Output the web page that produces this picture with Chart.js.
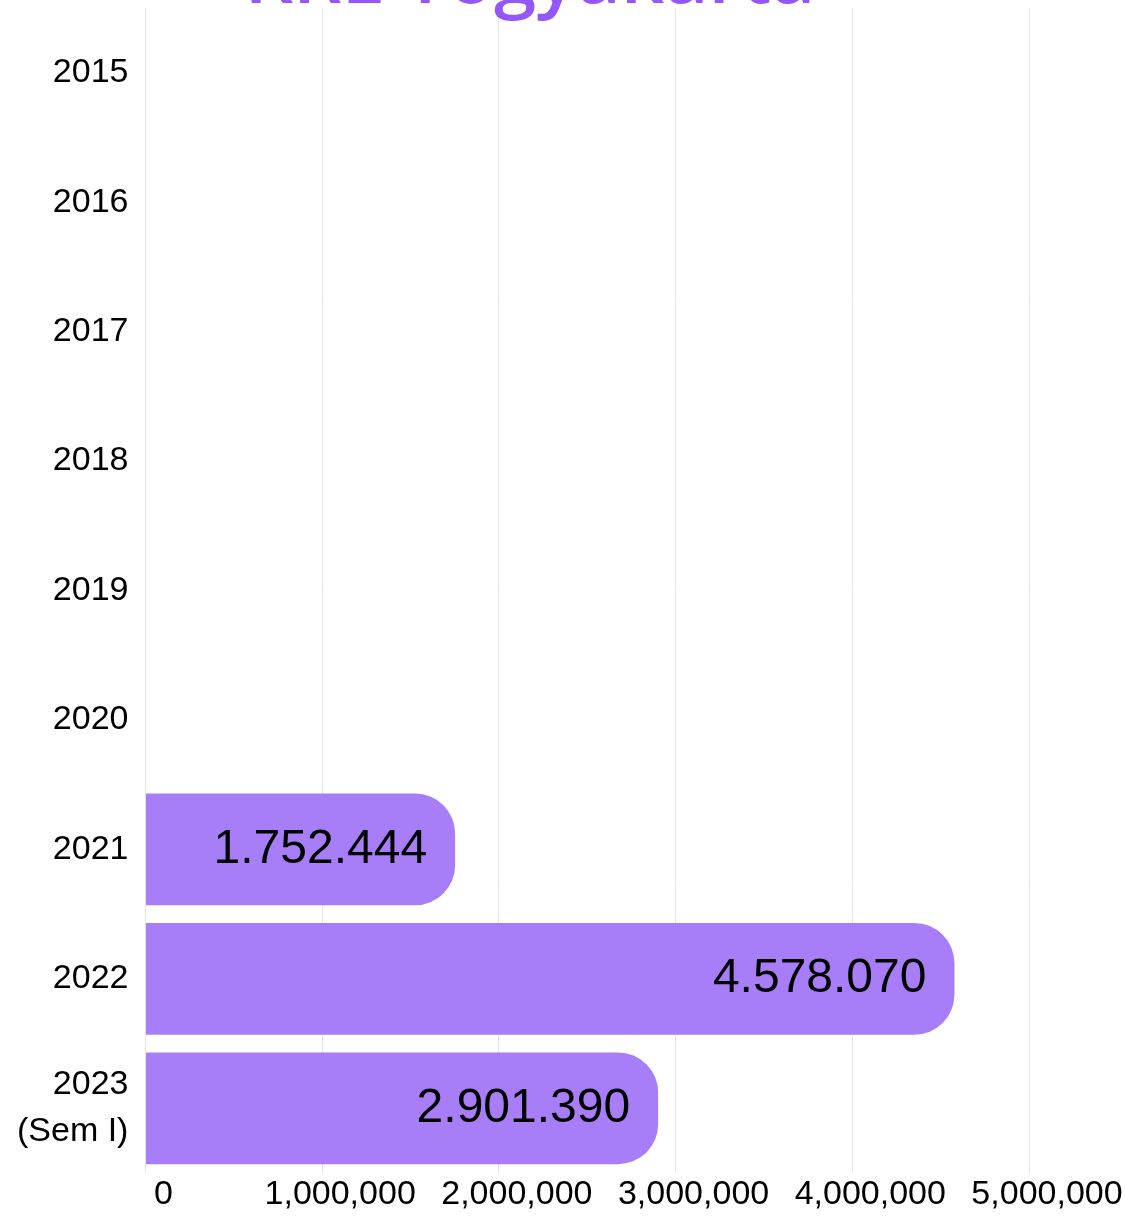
<!DOCTYPE html>
<html>
<head>
<meta charset="utf-8">
<script src="https://cdn.jsdelivr.net/npm/chart.js@4/dist/chart.umd.min.js"></script>
<style>
  html, body { margin: 0; padding: 0; background: #fff; overflow: hidden; }
  #wrap { position: relative; width: 1125px; height: 1217px; }
  #title {
    position: absolute; top: -64px; left: 0; width: 1060px;
    text-align: center; font-family: 'Open Sans', sans-serif;
    font-weight: 600; font-size: 76px; line-height: 76px; color: #9457fb;
    z-index: 2;
  }
</style>
</head>
<body>
<div id="wrap">
  <div id="title">KRL Yogyakarta</div>
  <canvas id="chart" width="1125" height="1217"></canvas>
</div>
<script>
const categories = ['2015', '2016', '2017', '2018', '2019', '2020', '2021', '2022', ['2023', '(Sem I)']];
const passengers = [null, null, null, null, null, null, 1752444, 4578070, 2901390];
const axisMax = 5000000;
const axisStep = 1000000;

// value labels drawn inside the bar end, Indonesian number format
const valueLabels = {
    id: 'valueLabels',
    afterDatasetsDraw(chart) {
        const ctx = chart.ctx;
        const meta = chart.getDatasetMeta(0);
        ctx.save();
        ctx.font = '48px "Liberation Sans", Arial, sans-serif';
        ctx.fillStyle = '#000';
        ctx.textAlign = 'right';
        ctx.textBaseline = 'middle';
        meta.data.forEach((bar, i) => {
            const v = passengers[i];
            if (v == null) return;
            ctx.fillText(v.toLocaleString('id-ID'), bar.x - 28, bar.y);
        });
        ctx.restore();
    },
};

const ctx = document.getElementById('chart').getContext('2d');
new Chart(ctx, {
    type: 'bar',
    data: {
        labels: categories,
        datasets: [
            {
                data: passengers,
                backgroundColor: '#a77ef8',
                borderWidth: 0,
                borderRadius: 40,
                borderSkipped: 'start',
                barPercentage: 0.863,
                categoryPercentage: 1,
            },
        ],
    },
    options: {
        indexAxis: 'y',
        responsive: false,
        animation: false,
        layout: {
            padding: { top: 8, right: 96, left: 0, bottom: 0 },
        },
        plugins: {
            legend: { display: false },
            tooltip: { enabled: false },
        },
        scales: {
            x: {
                min: 0,
                max: axisMax,
                border: { display: false },
                grid: { color: '#e6e6e6', drawTicks: false },
                ticks: {
                    stepSize: axisStep,
                    padding: 1,
                    labelOffset: 18,
                    color: '#000',
                    maxRotation: 0,
                    font: { family: '"Liberation Sans", Arial, sans-serif', size: 34, lineHeight: 1.2 },
                    callback: (v) => v.toLocaleString('en-US'),
                },
                afterFit(scale) {
                    scale.height = 44;
                },
            },
            y: {
                border: { display: false },
                grid: { display: false, drawTicks: false },
                ticks: {
                    padding: 17,
                    color: '#000',
                    font: { family: '"Liberation Sans", Arial, sans-serif', size: 34, lineHeight: 1.4 },
                },
                afterFit(scale) {
                    scale.paddingTop = 0;
                    scale.paddingBottom = 0;
                },
            },
        },
    },
    plugins: [valueLabels],
});
</script>
</body>
</html>
